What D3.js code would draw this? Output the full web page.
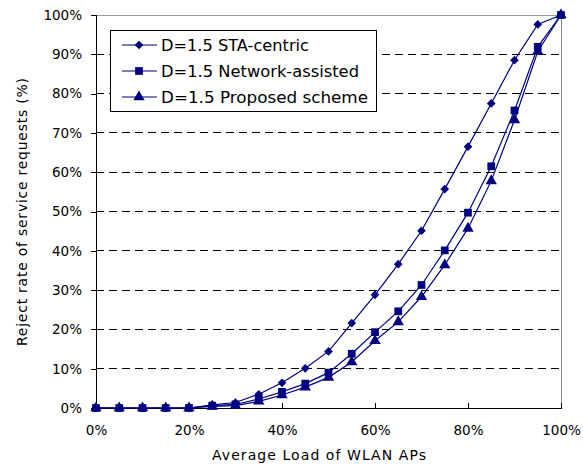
<!DOCTYPE html>
<html>
<head>
<meta charset="utf-8">
<script src="https://d3js.org/d3.v7.min.js"></script>
<style>
body { margin: 0; background: #fff; }
svg { display: block; }
text { font-family: "DejaVu Sans", sans-serif; fill: #000; }
</style>
</head>
<body>
<script>
const loads = [0,5,10,15,20,25,30,35,40,45,50,55,60,65,70,75,80,85,90,95,100];
const staCentric = [0,0,0,0,0,0.8,1.4,3.5,6.4,10.1,14.4,21.6,28.8,36.6,45.1,55.7,66.5,77.5,88.5,97.6,100];
const networkAssisted = [0,0,0,0,0,0.6,0.9,2.3,4.1,6.2,9.0,13.8,19.3,24.6,31.3,40.1,49.7,61.5,75.7,91.9,100];
const proposedScheme = [0,0,0,0,0,0.4,0.6,1.7,3.3,5.3,7.8,11.7,17.1,21.9,28.3,36.4,45.7,57.8,73.3,90.7,100];
const seriesNames = ["D=1.5 STA-centric","D=1.5 Network-assisted","D=1.5 Proposed scheme"];
const yTicks = [0,10,20,30,40,50,60,70,80,90,100];
const xTicks = [0,20,40,60,80,100];

const W = 583, H = 466;
const svg = d3.select("body").append("svg").attr("width", W).attr("height", H);
const x = d3.scaleLinear().domain([0,100]).range([96,561]);
const y = d3.scaleLinear().domain([0,100]).range([408,15]);
const navy = "#000080";
const tickFont = "13.5px";

// gridlines
svg.append("g").selectAll("line").data(yTicks.filter(d => d > 0 && d < 100)).join("line")
  .attr("x1", x(0)).attr("x2", x(100))
  .attr("y1", d => y(d)).attr("y2", d => y(d))
  .attr("stroke", "#000").attr("stroke-width", 1).attr("stroke-dasharray", "8,5")
  .attr("shape-rendering", "crispEdges");
// top and right border (gray)
svg.append("line").attr("x1", x(0)).attr("x2", x(100)).attr("y1", y(100)).attr("y2", y(100))
  .attr("stroke", "#999").attr("shape-rendering", "crispEdges");
svg.append("line").attr("x1", x(100)).attr("x2", x(100)).attr("y1", y(100)).attr("y2", y(0))
  .attr("stroke", "#888").attr("shape-rendering", "crispEdges");

// y axis
const yAxis = d3.axisLeft(y).tickValues(yTicks).tickFormat(d => d + "%").tickSize(5).tickPadding(9);
const gy = svg.append("g").attr("transform", `translate(${x(0)},0)`).call(yAxis);
gy.select(".domain").attr("stroke", "#000").attr("shape-rendering", "crispEdges");
gy.selectAll(".tick line").attr("stroke", "#000").attr("shape-rendering", "crispEdges");
gy.selectAll("text").style("font-size", tickFont).style("font-family", "'DejaVu Sans', sans-serif");

// x axis
const xAxis = d3.axisBottom(x).tickValues(xTicks).tickFormat(d => d + "%").tickSizeInner(-5).tickSizeOuter(0).tickPadding(17);
const gx = svg.append("g").attr("transform", `translate(0,${y(0)})`).call(xAxis);
gx.select(".domain").attr("stroke", "#000").attr("shape-rendering", "crispEdges");
gx.selectAll(".tick line").attr("stroke", "#000").attr("shape-rendering", "crispEdges");
gx.selectAll("text").style("font-size", tickFont).style("font-family", "'DejaVu Sans', sans-serif");

// axis titles
svg.append("text").attr("x", 319).attr("y", 460).attr("text-anchor", "middle")
  .style("font-size", "14px").attr("textLength", 214).attr("lengthAdjust", "spacing")
  .text("Average Load of WLAN APs");
svg.append("text").attr("transform", "translate(27,212) rotate(-90)").attr("text-anchor", "middle")
  .style("font-size", "14px").attr("textLength", 268).attr("lengthAdjust", "spacing")
  .text("Reject rate of service requests (%)");

const symbols = [d3.symbolSquare, d3.symbolSquare, d3.symbolTriangle];
const sizes = [38, 60, 56];
const rots = [45, 0, 0];
const datasets = [staCentric, networkAssisted, proposedScheme];
const line = d3.line().x((d,i) => x(loads[i])).y(d => y(d));

datasets.forEach((vals, k) => {
  svg.append("path").datum(vals).attr("d", line).attr("fill", "none")
    .attr("stroke", navy).attr("stroke-width", 1.2);
  svg.append("g").selectAll("path").data(vals).join("path")
    .attr("transform", (d,i) => `translate(${x(loads[i])},${y(d)}) rotate(${rots[k]})`)
    .attr("d", d3.symbol().type(symbols[k]).size(sizes[k]))
    .attr("fill", navy);
});

// legend
const lg = svg.append("g");
lg.append("rect").attr("x", 110.5).attr("y", 30.5).attr("width", 266).attr("height", 81)
  .attr("fill", "#fff").attr("stroke", "#000");
const legendLens = [148, 198, 207];
seriesNames.forEach((name, k) => {
  const yy = 45 + k * 26;
  lg.append("line").attr("x1", 122).attr("x2", 157).attr("y1", yy).attr("y2", yy)
    .attr("stroke", navy).attr("stroke-width", 1.2);
  lg.append("path").attr("transform", `translate(139,${yy}) rotate(${rots[k]})`)
    .attr("d", d3.symbol().type(symbols[k]).size(sizes[k])).attr("fill", navy);
  lg.append("text").attr("x", 161).attr("y", yy + 6).style("font-size", "16px")
    .attr("textLength", legendLens[k]).attr("lengthAdjust", "spacingAndGlyphs").text(name);
});
</script>
</body>
</html>
